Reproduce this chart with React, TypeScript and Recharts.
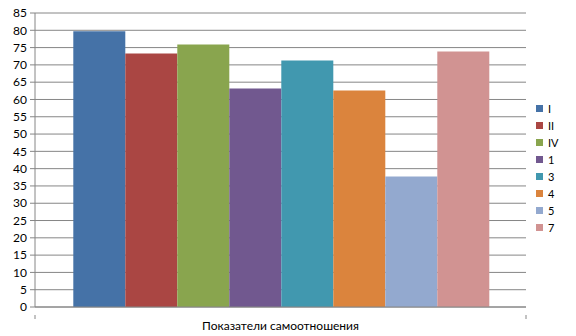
import { BarChart, Bar, XAxis, YAxis, CartesianGrid, Legend } from 'recharts';

const categories = ['Показатели самоотношения'];
const seriesNames = ['I', 'II', 'IV', '1', '3', '4', '5', '7'];
const seriesValues = [79.7, 73.3, 75.9, 63.2, 71.3, 62.6, 37.7, 73.9];
const yTicks = [0, 5, 10, 15, 20, 25, 30, 35, 40, 45, 50, 55, 60, 65, 70, 75, 80, 85];

const COLORS = ['#4572A7', '#AA4643', '#89A54E', '#71588F', '#4198AF', '#DB843D', '#93A9CF', '#D19392'];

const FONT = 'Lato, "DejaVu Sans", sans-serif';
const AXIS = '#868686';

const data = categories.map((category) => {
  const row: Record<string, string | number> = { category };
  seriesNames.forEach((name, j) => {
    row[name] = seriesValues[j];
  });
  return row;
});

function LegendBox() {
  return (
    <div style={{ width: 40, fontFamily: FONT, fontSize: 11, color: '#000' }}>
      {seriesNames.map((name, i) => (
        <div key={name} style={{ display: 'flex', alignItems: 'center', height: 17 }}>
          <span style={{ width: 7, height: 7, backgroundColor: COLORS[i], marginRight: 5 }} />
          <span>{name}</span>
        </div>
      ))}
    </div>
  );
}

// category label plus the two boundary ticks of the category band
function CategoryTick(props: any) {
  const { x, y, payload } = props;
  const half = 245.5;
  return (
    <g>
      <line x1={x - half} y1={y} x2={x - half} y2={y + 4} stroke={AXIS} />
      <line x1={x + half} y1={y} x2={x + half} y2={y + 4} stroke={AXIS} />
      <text x={x} y={y + 15} textAnchor="middle" fontFamily={FONT} fontSize={12} fill="#000">
        {payload.value}
      </text>
    </g>
  );
}

export default function App() {
  return (
    <div style={{ position: 'absolute', left: 0, top: 0, background: '#fff' }}>
      <BarChart
        width={576}
        height={336}
        data={data}
        margin={{ top: 13, right: 10, bottom: 0, left: 0 }}
        barGap={0}
        barCategoryGap="7.8%"
      >
        <CartesianGrid vertical={false} stroke={AXIS} strokeWidth={1} />
        <XAxis
          dataKey="category"
          axisLine={{ stroke: AXIS }}
          tickLine={false}
          tick={<CategoryTick />}
          height={29}
        />
        <YAxis
          domain={[0, 85]}
          ticks={yTicks}
          interval={0}
          width={35}
          tickSize={5}
          tickMargin={3}
          axisLine={{ stroke: AXIS }}
          tickLine={{ stroke: AXIS }}
          tick={{ fontFamily: FONT, fontSize: 12, fill: '#000' }}
        />
        <Legend
          layout="vertical"
          align="right"
          verticalAlign="middle"
          content={<LegendBox />}
          wrapperStyle={{ width: 40, top: 100, right: 0 }}
        />
        {seriesNames.map((name, i) => (
          <Bar key={name} dataKey={name} fill={COLORS[i]} isAnimationActive={false} />
        ))}
      </BarChart>
    </div>
  );
}
